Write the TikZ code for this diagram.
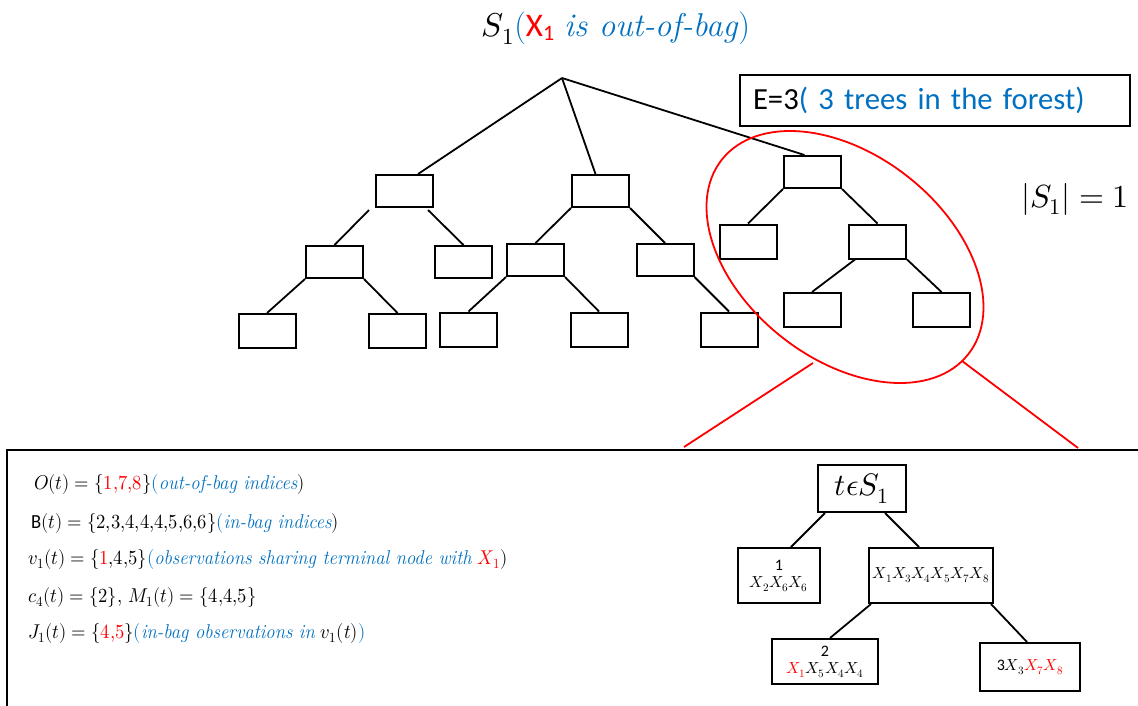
\documentclass[tikz,border=0pt]{standalone}
\usepackage{unicode-math}
\newfontfamily\calib{Carlito}
\usetikzlibrary{calc}
\definecolor{oblue}{HTML}{0070C0}
\definecolor{ored}{HTML}{FF0000}
\newcommand{\fs}[1]{\fontsize{#1}{#1}\selectfont}
\newcommand{\nar}[1]{\scalebox{0.93}[1]{#1}}
\begin{document}
\begin{tikzpicture}[x=1pt,y=-1pt,
  tbox/.style={draw, line width=2pt, minimum width=57pt, minimum height=32pt, inner sep=0pt},
  lbox/.style={tbox, minimum height=34pt},
  sbox/.style={draw, line width=2pt, inner sep=0pt, align=center, font=\fs{16}},
  edge/.style={line width=1.8pt},
  redline/.style={draw=ored, line width=1.8pt},
  txt/.style={anchor=west, inner sep=0pt, font=\fs{20}}]
\useasboundingbox (0,0) rectangle (1138,705);

% title
\node (title) at (616,28) {\fs{33}$S_1$\textcolor{oblue}{(}\textcolor{ored}{\calib X\lower0.3ex\hbox{\fs{22}1}}\textcolor{oblue}{\ \textit{is out-of-bag})}};

% forest apex
\coordinate (apex) at (562,78);

% tree 1
\node[tbox] (t1) at (404.5,191) {};
\node[tbox] (t1L) at (334.5,262) {};
\node[tbox] (t1R) at (463.5,262) {};
\node[lbox] (t1LL) at (267,331) {};
\node[lbox] (t1LR) at (397.5,331) {};
% tree 2
\node[tbox] (t2) at (600.5,191) {};
\node[tbox] (t2L) at (535.5,260) {};
\node[tbox] (t2R) at (665,260) {};
\node[lbox] (t2LL) at (468.5,329.5) {};
\node[lbox] (t2LR) at (599,329.5) {};
\node[lbox] (t2RR) at (729,329.5) {};
% tree 3
\node[tbox] (t3) at (812.5,172) {};
\node[lbox] (t3L) at (748,241.5) {};
\node[lbox] (t3R) at (877.5,241.5) {};
\node[lbox] (t3RL) at (812,310) {};
\node[lbox] (t3RR) at (941.5,310) {};

\draw[edge] (apex) -- ([xshift=13.5pt]t1.north);
\draw[edge] (apex) -- ([xshift=-5pt]t2.north);
\draw[edge] (apex) -- ([xshift=-8pt]t3.north);
\draw[edge] ([xshift=-6pt,yshift=-2pt]t1.south west) -- (t1L.north);
\draw[edge] ([xshift=-6pt,yshift=-2pt]t1.south east) -- (t1R.north);
\draw[edge] (t1L.south west) -- (t1LL.north);
\draw[edge] (t1L.south east) -- (t1LR.north);
\draw[edge] (t2.south west) -- (t2L.north);
\draw[edge] (t2.south east) -- (t2R.north);
\draw[edge] (t2L.south west) -- (t2LL.north);
\draw[edge] (t2L.south east) -- (t2LR.north);
\draw[edge] (t2R.south east) -- (t2RR.north);
\draw[edge] (t3.south west) -- (t3L.north);
\draw[edge] (t3.south east) -- (t3R.north);
\draw[edge] ([xshift=7pt]t3R.south west) -- (t3RL.north);
\draw[edge] (t3R.south east) -- (t3RR.north);

% E box
\node[draw, line width=2pt, anchor=west, text width=364pt, inner xsep=13pt, minimum height=51pt, align=left, font=\fs{30.7}\calib] (ebox) at (739,100.5) {E=3\textcolor{oblue}{( 3 trees in the forest)}};

% |S1|
\node[font=\fs{32}] (card) at (1075,199) {$|S_1|=1$};

% ellipse and zoom lines
\draw[redline, rotate around={-38.3:(845,257)}] (845,257) ellipse [x radius=157, y radius=102];
\coordinate (zl1) at (813,363);
\coordinate (zl2) at (684,447);
\coordinate (zr1) at (962,361);
\coordinate (zr2) at (1078,448);
\draw[redline] (zl1) -- (zl2);
\draw[redline] (zr1) -- (zr2);

% bottom panel
\draw[line width=2pt] (7,710) -- (7,450) -- (1145,450);

\node[txt] (l1) at (34,484) {\nar{$O(t)=\{\textcolor{ored}{1{,}7{,}8}\}$\textcolor{oblue}{$($\textit{out-of-bag indices}}$)$}};
\node[txt] (l2) at (31,523) {\nar{{\calib B}$(t)=\{2{,}3{,}4{,}4{,}4{,}5{,}6{,}6\}$\textcolor{oblue}{$($\textit{in-bag indices}}$)$}};
\node[txt] (l3) at (28,559) {\nar{$v_1(t)=\{\textcolor{ored}{1}{,}4{,}5\}$\textcolor{oblue}{$($\textit{observations sharing terminal node with} }\textcolor{ored}{$X_1$}$)$}};
\node[txt] (l4) at (28,597) {\nar{$c_4(t)=\{2\},\,M_1(t)=\{4{,}4{,}5\}$}};
\node[txt] (l5) at (28,633) {\nar{$J_1(t)=\{\textcolor{ored}{4{,}5}\}$\textcolor{oblue}{$($\textit{in-bag observations in} }$v_1(t)$\textcolor{oblue}{$)$}}};

% small tree
\node[sbox, minimum width=88pt, minimum height=47pt, font=\fs{31}] (r) at (862,488.5) {$t\epsilon S_1$};
\node[sbox, minimum width=82pt, minimum height=55pt] (a) at (779,575.5) {{\calib 1}\\[1pt]$X_2X_6X_6$};
\node[sbox, minimum width=124pt, minimum height=55pt] (b) at (931,575.5) {$X_1X_3X_4X_5X_7X_8$};
\node[sbox, minimum width=106pt, minimum height=45pt] (c) at (825,661.5) {{\calib 2}\\[1pt]\textcolor{ored}{$X_1$}$X_5X_4X_4$};
\node[sbox, minimum width=100pt, minimum height=48pt] (d) at (1030,667) {{\calib 3}$X_3$\textcolor{ored}{$X_7X_8$}};
\draw[edge] ([xshift=8pt]r.south west) -- ([xshift=12pt]a.north);
\draw[edge] ([xshift=-22pt]r.south east) -- ([xshift=-12pt]b.north);
\draw[edge] ([xshift=3pt]b.south west) -- ([xshift=5pt]c.north);
\draw[edge] ([xshift=-3pt]b.south east) -- ([xshift=-3pt]d.north);
\end{tikzpicture}
\end{document}
